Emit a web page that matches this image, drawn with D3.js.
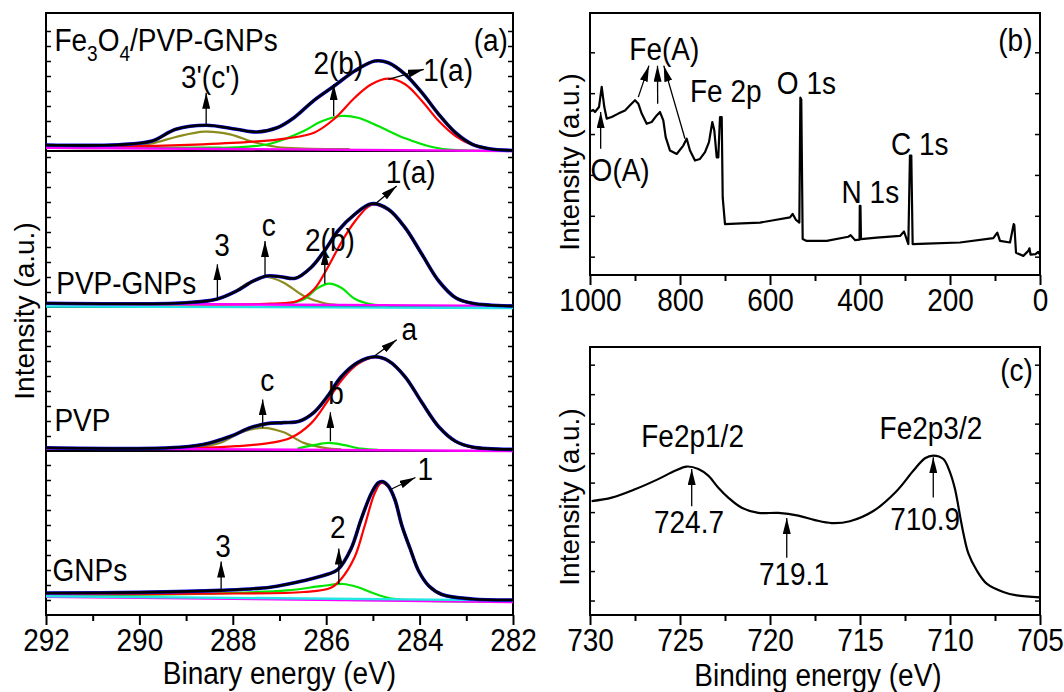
<!DOCTYPE html>
<html>
<head>
<meta charset="utf-8">
<script src="https://cdn.jsdelivr.net/npm/d3@7"></script>
<style>
  body { margin: 0; background: #fff; }
  svg text { font-family: "Liberation Sans", Arial, Helvetica, sans-serif; fill: #000; }
</style>
</head>
<body>
<svg id="chart" width="1064" height="692"></svg>
<script>
// ---- panel (a): C 1s fits, binding energy (eV) vs intensity (a.u., stacked) ----
// Fe3O4/PVP-GNPs
const fePvpTotal = [[292,0.6],[290.45,0.63],[289.73,1.0],[289.22,2.17],[288.57,2.57],[287.92,2.17],[287.49,1.9],[287.05,2.33],[286.69,3.33],[286.26,5.07],[285.83,6.5],[285.39,8.0],[284.96,9.0],[284.67,8.83],[284.31,7.67],[283.95,5.83],[283.59,3.67],[283.23,1.83],[282.87,0.67],[282.51,0.23],[282,0.05]];
const fePvpPeak1 = [[292,0.45],[290,0.5],[288.64,0.67],[287.56,0.93],[286.84,1.27],[286.26,1.83],[285.83,3.2],[285.39,5.33],[285.03,6.67],[284.67,7.23],[284.31,6.67],[283.95,5.0],[283.59,3.0],[283.23,1.5],[282.87,0.6],[282.51,0.17],[282,0.02]];
const fePvpPeak2 = [[292,0.33],[288.5,0.33],[287.92,0.36],[287.2,0.73],[286.48,2.0],[286.12,2.93],[285.68,3.5],[285.32,3.33],[284.89,2.5],[284.31,1.27],[283.73,0.4],[283.23,0.08],[282,0.02]];
const fePvpPeak3 = [[292,0.33],[290.45,0.36],[289.73,0.77],[289.22,1.4],[288.61,1.93],[288.06,1.67],[287.56,0.9],[287.05,0.4],[286.48,0.25],[285.5,0.2]];
const fePvpBase = [[292,0.33],[282,0.0]];

// PVP-GNPs
const pvpGnpTotal = [[292,0.37],[289,0.43],[288.35,0.77],[287.92,1.6],[287.56,2.6],[287.27,3.1],[286.98,3.03],[286.66,2.87],[286.33,3.93],[286.04,5.6],[285.75,7.6],[285.39,9.27],[285.03,10.33],[284.67,9.77],[284.31,7.93],[283.95,5.27],[283.59,2.6],[283.23,0.93],[282.87,0.37],[282,0.1]];
const pvpGnpPeak1 = [[292,0.3],[287.2,0.33],[286.62,0.6],[286.26,1.77],[285.97,3.93],[285.68,6.43],[285.39,8.53],[285.03,10.2],[284.67,9.7],[284.31,7.87],[283.95,5.2],[283.59,2.57],[283.23,0.9],[282.87,0.33],[282,0.1]];
const pvpGnpPeak2 = [[286.84,0.3],[286.48,0.77],[286.19,1.87],[285.94,2.33],[285.68,1.93],[285.39,0.83],[285.03,0.27],[284.67,0.15]];
const pvpGnpPeak3 = [[289,0.27],[288.64,0.43],[288.06,1.27],[287.63,2.53],[287.27,3.0],[286.91,2.43],[286.48,1.1],[286.04,0.37],[285.75,0.2]];
const pvpGnpBase = [[292,0.37],[282,0.1]];
const pvpGnpBase2 = [[292,0.05],[282,-0.1]];

// PVP
const pvpTotal = [[292,0.32],[289.36,0.32],[288.64,0.65],[288.06,1.45],[287.63,2.32],[287.27,2.74],[286.91,2.84],[286.58,2.97],[286.26,3.87],[285.97,5.48],[285.68,7.42],[285.32,8.87],[284.96,9.42],[284.67,9.03],[284.31,7.42],[283.95,4.84],[283.59,2.42],[283.23,0.97],[282.87,0.39],[282,0.16]];
const pvpPeak1 = [[292,0.26],[288.64,0.32],[287.92,0.48],[287.2,0.81],[286.77,1.29],[286.33,2.74],[285.97,5.0],[285.68,7.03],[285.32,8.71],[284.96,9.35],[284.67,8.98],[284.31,7.39],[283.95,4.81],[283.59,2.39],[283.23,0.94],[282.87,0.36],[282,0.14]];
const pvpPeak2 = [[286.62,0.23],[286.26,0.58],[285.94,0.81],[285.61,0.58],[285.25,0.23],[284.89,0.12]];
const pvpPeak3 = [[288.79,0.32],[288.28,0.81],[287.78,1.94],[287.34,2.32],[286.91,1.87],[286.48,0.81],[286.04,0.32],[285.68,0.16]];
const pvpBase = [[292,0.26],[282,0.0]];

// GNPs
const gnpTotal = [[292,2.2],[290,2.26],[288.28,2.46],[287.2,2.78],[286.48,3.43],[285.97,4.07],[285.75,4.55],[285.47,6.6],[285.25,9.6],[285.03,12.2],[284.89,13.2],[284.8,13.35],[284.67,12.9],[284.53,11.55],[284.38,8.95],[284.2,6.6],[284.02,4.4],[283.8,2.9],[283.52,2.05],[282.87,1.6],[282,1.5]];
const gnpPeak1 = [[292,2.04],[288.64,2.13],[286.48,2.3],[285.9,2.72],[285.68,3.6],[285.39,5.8],[285.18,8.85],[284.96,12.2],[284.82,13.2],[284.67,12.8],[284.53,11.45],[284.38,8.88],[284.2,6.55],[284.02,4.35],[283.8,2.85],[283.52,2.0],[282.87,1.56],[282,1.47]];
const gnpPeak2 = [[292,1.97],[288.64,2.13],[286.84,2.46],[286.12,2.88],[285.64,3.1],[285.32,2.78],[284.96,2.13],[284.6,1.65],[283.95,1.43],[282,1.33]];
const gnpBase = [[292,1.83],[282,1.3]];
const gnpBase2 = [[292,1.88],[282,1.46]];

// annotations: [text, eV, intensity, anchor]
const fePvpLabels = [["3'(c')",288.48,6.27,"middle"],["2(b)",285.74,7.67,"middle"],["1(a)",283.39,7.0,"middle"],["(a)",282.11,10.0,"end"]];
const fePvpArrows = [[288.57,2.5,288.57,5.83],[285.84,3.5,285.84,6.67],[284.67,7.17,283.91,8.17]];
const pvpGnpLabels = [["PVP-GNPs",291.78,1.27,"start"],["3",288.23,5.1,"middle"],["c",287.23,7.1,"middle"],["2(b)",285.92,5.6,"middle"],["1(a)",284.19,12.43,"middle"]];
const pvpGnpArrows = [[288.33,0.83,288.33,4.27],[287.31,3.1,287.31,6.6],[286.03,2.33,286.03,5.77],[284.92,10.43,284.49,12.1]];
const pvpLabels = [["PVP",291.82,2.0,"start"],["c",287.26,5.97,"middle"],["b",285.79,4.68,"middle"],["a",284.22,11.13,"middle"]];
const pvpArrows = [[287.36,2.32,287.36,5.16],[285.91,0.97,285.91,3.87],[284.96,9.52,284.49,11.13]];
const gnpLabels = [["GNPs",291.86,3.4,"start"],["3",288.21,5.8,"middle"],["2",285.75,7.75,"middle"],["1",283.88,13.5,"middle"]];
const gnpArrows = [[288.25,2.3,288.25,5.35],[285.73,3.1,285.73,6.65],[284.6,12.6,284.09,13.75]];

const aTicksMajor = [292, 290, 288, 286, 284, 282];
const aTicksMinor = [291, 289, 287, 285, 283];

// ---- panel (b): survey spectrum ----
const surveyData = [[998,62.5],[993,63.0],[988.9,62.2],[980,64.1],[974,71.8],[968.2,64.1],[962.9,59.7],[951.8,60.3],[937.1,61.6],[922.2,62.8],[911.1,64.8],[900,66.7],[892.7,65.4],[885.1,61.6],[874,57.7],[862.9,58.4],[851.8,60.9],[844.4,62.2],[837.1,59.0],[831.8,52.6],[822.2,47.5],[807.3,46.2],[792.7,49.4],[785.1,52.0],[777.8,47.5],[766.7,43.7],[755.6,44.3],[744.4,46.9],[735.6,50.7],[728.2,58.4],[723.8,55.2],[718.4,44.9],[714.9,44.9],[711.1,60.3],[707.3,60.3],[705.1,29.6],[700,19.4],[662.9,19.7],[622.2,20.0],[588.9,21.0],[555.6,22.0],[549.6,23.3],[542.2,21.0],[534.8,20.0],[532.5,67.7],[530.5,67.0],[527.4,13.7],[518.5,13.0],[474,13.0],[426,14.6],[420.7,15.2],[411.1,13.3],[401,13.5],[400.5,26.4],[399,26.4],[397.8,13.7],[362.9,14.3],[311.1,14.9],[302.2,16.6],[292.6,11.8],[289,45.6],[286,45.6],[283,11.8],[251.9,12.0],[177.8,12.4],[103.7,14.1],[94.9,16.2],[88.9,13.0],[66.7,12.4],[58.5,19.4],[57,19.0],[53.3,8.5],[37,7.3],[25.9,9.2],[23.5,10.2],[21,7.8],[10,8.0],[4,8.8],[1,8.0]];
const surveyLabels = [["Fe(A)",834.8,82,"middle"],["O(A)",933,36.0,"middle"],["Fe 2p",777.8,66.0,"start"],["O 1s",584.8,69,"start"],["N 1s",440.9,27.3,"start"],["C 1s",331,45.9,"start"],["(b)",16.7,85.6,"end"]];
const surveyArrows = [[892.7,67.9,869,79.9],[849.6,65.4,850,79.9],[788.9,52.0,836,79.9],[976.3,48.2,976.3,62.2]];
const bTicksMajor = [1000, 800, 600, 400, 200, 0];
const bTicksMinor = [900, 700, 500, 300, 100];
const bTicksY = [7, 22.6, 38.2, 53.8, 69.4, 85];

// ---- panel (c): Fe 2p region ----
const fe2pData = [[729.91,42.5],[728.79,43.8],[727.5,46.9],[726.21,50.7],[725.28,53.8],[724.63,55.4],[723.98,54.5],[723.43,52.0],[722.87,47.5],[722.32,43.8],[721.57,40.0],[720.65,38.1],[719.54,38.1],[718.43,37.1],[717.5,35.4],[716.57,34.3],[715.56,35.0],[714.26,38.8],[712.96,46.3],[712.04,53.8],[711.39,58.5],[710.93,59.5],[710.37,58.2],[710.0,53.2],[709.72,46.9],[709.44,36.9],[709.26,30.6],[708.98,23.0],[708.52,16.7],[707.96,11.7],[707.04,8.6],[706.29,7.3],[705.0,6.6]];
const fe2pLabels = [["Fe2p1/2",724.3,62.6,"middle"],["Fe2p3/2",711.06,65.6,"middle"],["724.7",724.5,30.6,"middle"],["719.1",718.67,11.2,"middle"],["710.9",711.38,31.6,"middle"],["(c)",705.4,87.4,"end"]];
const fe2pArrows = [[724.35,40.6,724.35,54.5],[719.07,21.4,719.07,36.2],[710.93,43.8,710.93,58.9]];
const cTicksMajor = [730, 725, 720, 715, 710, 705];
const cTicksMinor = [727.5, 722.5, 717.5, 712.5, 707.5];
const cTicksY = [5.4, 16.4, 27.4, 38.4, 49.4, 60.4, 71.4, 82.4, 93.4];

// ---------------------------------------------------------------
const FS = 28;      // font size
const SY = 1.13;    // the original lettering is slightly tall
const svg = d3.select("#chart");

svg.append("defs").append("marker")
    .attr("id", "arrow")
    .attr("viewBox", "0 0 16 8")
    .attr("refX", 16).attr("refY", 4)
    .attr("markerUnits", "userSpaceOnUse")
    .attr("markerWidth", 16).attr("markerHeight", 8)
    .attr("orient", "auto")
  .append("path")
    .attr("d", "M0,0 L16,4 L0,8 Z")
    .attr("fill", "#000");

// Function used to place a horizontal text item.
const text = (g, x, y, s, anchor = "start") =>
  g.append("text")
    .attr("transform", `translate(${x},${y}) scale(1,${SY})`)
    .attr("text-anchor", anchor)
    .attr("font-size", FS)
    .text(s);

// Function used to add a bottom axis with major (labelled) and minor ticks.
const bottomAxis = (g, x, y0, majors, minors) => {
  const major = g.append("g").attr("transform", `translate(0,${y0})`)
    .call(d3.axisBottom(x).tickValues(majors).tickSize(10).tickFormat(d3.format("d")));
  const minor = g.append("g").attr("transform", `translate(0,${y0})`)
    .call(d3.axisBottom(x).tickValues(minors).tickSize(6).tickFormat(""));
  [major, minor].forEach(a => {
    a.select(".domain").remove();
    a.selectAll(".tick line").attr("stroke", "#000").attr("stroke-width", 2);
  });
  major.selectAll(".tick text")
    .attr("y", null).attr("dy", null)
    .attr("transform", `translate(0,36) scale(1,${SY})`)
    .attr("font-size", FS)
    .attr("font-family", '"Liberation Sans", Arial, sans-serif')
    .attr("fill", "#000");
};

// Function used to add inward ticks on both sides of a plot.
const sideTicks = (g, y, values, x0, x1) => {
  g.append("g").attr("transform", `translate(${x0},0)`)
    .call(d3.axisLeft(y).tickValues(values).tickSize(-5).tickFormat(""))
    .call(a => a.select(".domain").remove())
    .selectAll(".tick line").attr("stroke", "#000").attr("stroke-width", 1.5);
  g.append("g").attr("transform", `translate(${x1},0)`)
    .call(d3.axisRight(y).tickValues(values).tickSize(-5).tickFormat(""))
    .call(a => a.select(".domain").remove())
    .selectAll(".tick line").attr("stroke", "#000").attr("stroke-width", 1.5);
};

const addLabels = (g, x, y, labels) => {
  labels.forEach(([t, a, b, anchor]) => text(g, x(a), y(b), t, anchor));
};

const addArrows = (g, x, y, arrows) => {
  arrows.forEach(([a1, b1, a2, b2]) => {
    g.append("line")
      .attr("x1", x(a1)).attr("y1", y(b1))
      .attr("x2", x(a2)).attr("y2", y(b2))
      .attr("stroke", "#000").attr("stroke-width", 1.3)
      .attr("marker-end", "url(#arrow)");
  });
};

const yLabel = (x, y, s) => {
  svg.append("text")
    .attr("transform", `translate(${x},${y}) rotate(-90)`)
    .attr("text-anchor", "middle")
    .attr("font-size", FS)
    .text(s);
};

// ================= panel (a) =================
const A = { left: 46, right: 513, top: 13, floors: [151, 307, 451, 615] };
const xA = d3.scaleLinear().domain([292, 282]).range([A.left, A.right]);
const gA = svg.append("g");

const subpanels = [
  { total: fePvpTotal, peaks: [fePvpPeak3, fePvpPeak2, fePvpPeak1], bases: [fePvpBase], labels: fePvpLabels, arrows: fePvpArrows },
  { total: pvpGnpTotal, peaks: [pvpGnpPeak3, pvpGnpPeak2, pvpGnpPeak1], bases: [pvpGnpBase, pvpGnpBase2], labels: pvpGnpLabels, arrows: pvpGnpArrows },
  { total: pvpTotal, peaks: [pvpPeak3, pvpPeak2, pvpPeak1], bases: [pvpBase], labels: pvpLabels, arrows: pvpArrows },
  { total: gnpTotal, peaks: [gnpPeak2, gnpPeak1], peakColors: ["#00e600", "#ff0000"], bases: [gnpBase, gnpBase2], labels: gnpLabels, arrows: gnpArrows }
];
const peakColors = ["#8c8c1e", "#00e600", "#ff0000"];
const baseColors = ["#ff00ff", "#22e5e5"];

// frame + separators
gA.append("rect")
  .attr("x", A.left).attr("y", A.top)
  .attr("width", A.right - A.left).attr("height", A.floors[3] - A.top)
  .attr("fill", "none").attr("stroke", "#000").attr("stroke-width", 2);
A.floors.slice(0, 3).forEach(f => {
  gA.append("line").attr("x1", A.left).attr("x2", A.right).attr("y1", f).attr("y2", f)
    .attr("stroke", "#000").attr("stroke-width", 2);
});

subpanels.forEach((sp, i) => {
  const top = i === 0 ? A.top : A.floors[i - 1];
  const floor = A.floors[i];
  const y = d3.scaleLinear().domain([0, (floor - top) / 10]).range([floor, top]);
  const line = d3.line().x(d => xA(d[0])).y(d => y(d[1])).curve(d3.curveCatmullRom.alpha(0.5));
  const g = gA.append("g");

  sideTicks(g, y, d3.range(1.5, (floor - top) / 10 - 0.5, 1.5), A.left, A.right);

  const colors = sp.peakColors || peakColors;
  sp.peaks.forEach((p, k) => {
    g.append("path").datum(p).attr("d", line)
      .attr("fill", "none").attr("stroke", colors[k]).attr("stroke-width", 2.2);
  });
  sp.bases.forEach((b, k) => {
    g.append("path").datum(b).attr("d", line)
      .attr("fill", "none").attr("stroke", baseColors[k]).attr("stroke-width", 2.4);
  });
  g.append("path").datum(sp.total).attr("d", line)
    .attr("fill", "none").attr("stroke", "#1010ff").attr("stroke-width", 3.6);
  g.append("path").datum(sp.total).attr("d", line)
    .attr("fill", "none").attr("stroke", "#000").attr("stroke-width", 2.6);

  addArrows(g, xA, y, sp.arrows);
  addLabels(g, xA, y, sp.labels);

  if (i === 0) {
    const t = g.append("text")
      .attr("transform", `translate(${xA(291.82)},${y(10.0)}) scale(1,${SY})`)
      .attr("font-size", FS);
    t.append("tspan").text("Fe");
    t.append("tspan").attr("font-size", 19).attr("dy", 9).text("3");
    t.append("tspan").attr("dy", -9).text("O");
    t.append("tspan").attr("font-size", 19).attr("dy", 9).text("4");
    t.append("tspan").attr("dy", -9).text("/PVP-GNPs");
  }
});

bottomAxis(gA, xA, A.floors[3], aTicksMajor, aTicksMinor);
text(gA, (A.left + A.right) / 2, 684, "Binary energy (eV)", "middle");
yLabel(34, 311, "Intensity (a.u.)");

// ================= panel (b) =================
const B = { left: 590, right: 1040, top: 13, bottom: 275 };
const xB = d3.scaleLinear().domain([1000, 0]).range([B.left, B.right]);
const yB = d3.scaleLinear().domain([0, 100]).range([B.bottom, B.top]);
const gB = svg.append("g");
gB.append("rect").attr("x", B.left).attr("y", B.top)
  .attr("width", B.right - B.left).attr("height", B.bottom - B.top)
  .attr("fill", "none").attr("stroke", "#000").attr("stroke-width", 2);
sideTicks(gB, yB, bTicksY, B.left, B.right);
gB.append("path").datum(surveyData)
  .attr("d", d3.line().x(d => xB(d[0])).y(d => yB(d[1])))
  .attr("fill", "none").attr("stroke", "#000").attr("stroke-width", 2.2).attr("stroke-linejoin", "round");
addArrows(gB, xB, yB, surveyArrows);
addLabels(gB, xB, yB, surveyLabels);
bottomAxis(gB, xB, B.bottom, bTicksMajor, bTicksMinor);
yLabel(579, 162, "Intensity (a.u.)");

// ================= panel (c) =================
const C = { left: 590, right: 1040, top: 347, bottom: 615 };
const xC = d3.scaleLinear().domain([730, 705]).range([C.left, C.right]);
const yC = d3.scaleLinear().domain([0, 100]).range([C.bottom, C.top]);
const gC = svg.append("g");
gC.append("rect").attr("x", C.left).attr("y", C.top)
  .attr("width", C.right - C.left).attr("height", C.bottom - C.top)
  .attr("fill", "none").attr("stroke", "#000").attr("stroke-width", 2);
sideTicks(gC, yC, cTicksY, C.left, C.right);
gC.append("path").datum(fe2pData)
  .attr("d", d3.line().x(d => xC(d[0])).y(d => yC(d[1])).curve(d3.curveCatmullRom.alpha(0.5)))
  .attr("fill", "none").attr("stroke", "#000").attr("stroke-width", 2.2);
addArrows(gC, xC, yC, fe2pArrows);
addLabels(gC, xC, yC, fe2pLabels);
bottomAxis(gC, xC, C.bottom, cTicksMajor, cTicksMinor);
text(gC, 818, 686, "Binding energy (eV)", "middle");
yLabel(579, 497, "Intensity (a.u.)");
</script>
</body>
</html>
